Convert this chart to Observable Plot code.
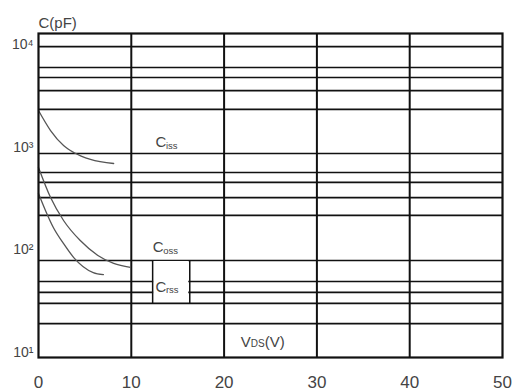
<!DOCTYPE html>
<html><head><meta charset="utf-8">
<script src="https://cdn.jsdelivr.net/npm/d3@7"></script>
<script src="https://cdn.jsdelivr.net/npm/@observablehq/plot@0.6"></script>
<style>body{margin:0;background:#fff;font-family:"Liberation Sans",Arial,sans-serif;}</style>
</head><body><div id="chart"></div>
<script>
// axis ticks
const xTicks = [0, 10, 20, 30, 40, 50];
const yTicks = [10, 100, 1000, 10000];
const yTickText = ["10\u00B9", "10\u00B2", "10\u00B3", "10\u2074"];
// grid lines
const gridY = [9550, 5970, 4770, 3560, 2330, 867, 566, 453, 323, 216, 78.7, 49.1, 38.4, 30.0, 19.1];
const gridX = [10, 20, 30, 40];
// curves: VDS (V) -> C (pF)
const cissV = [0, 1.3, 2.7, 3.8, 5.6, 8.1];
const cissC = [2275, 1452, 1037, 887, 758, 693];
const cossV = [0, 1.3, 2.7, 4.5, 6.4, 8.1, 9.9];
const cossC = [634, 323, 193, 123, 88, 73.6, 67.3];
const crssV = [0, 0.75, 1.6, 2.7, 3.8, 5.9, 7.0];
const crssC = [354, 242, 165, 115, 84, 60, 57.4];
// labels
const labelMain = ["C", "C", "C"];
const labelSub = ["iss", "oss", "rss"];
const labelX = [12.6, 12.3, 12.6];
const labelY = [1110, 105, 43];
// Crss label box
const boxX = [12.3, 16.3];
const boxY = [30.0, 78.7];
// axis title positions
const vdsX = 21.8, vdsY = 12.5;

const series = (v, c) => v.map((d, i) => ({v: d, c: c[i]}));
const labels = labelMain.map((m, i) => ({m, s: labelSub[i], x: labelX[i], y: labelY[i]}));
const textColor = "#444";

const chart = Plot.plot({
  width: 514,
  height: 392,
  marginTop: 33,
  marginBottom: 35,
  marginLeft: 38,
  marginRight: 12,
  style: {fontFamily: "'Liberation Sans', Arial, sans-serif", background: "#fff"},
  x: {domain: [0, 50]},
  y: {type: "log", domain: [8.93, 12794]},
  marks: [
    Plot.ruleY(gridY, {stroke: "#111", strokeWidth: 1.7}),
    Plot.ruleX(gridX, {stroke: "#111", strokeWidth: 2}),
    Plot.rect([{x1: boxX[0], x2: boxX[1], y1: boxY[0], y2: boxY[1]}], {x1: "x1", x2: "x2", y1: "y1", y2: "y2", fill: "white", inset: 1}),
    Plot.ruleX(boxX, {y1: boxY[0], y2: boxY[1], stroke: "#111", strokeWidth: 1.5}),
    Plot.line(series(cissV, cissC), {x: "v", y: "c", curve: "monotone-x", stroke: "#555", strokeWidth: 1.3}),
    Plot.line(series(cossV, cossC), {x: "v", y: "c", curve: "monotone-x", stroke: "#555", strokeWidth: 1.3}),
    Plot.line(series(crssV, crssC), {x: "v", y: "c", curve: "monotone-x", stroke: "#555", strokeWidth: 1.3}),
    Plot.frame({stroke: "#111", strokeWidth: 2.2}),
    Plot.axisX({ticks: xTicks, tickSize: 0, tickPadding: 18, fontSize: 17, fill: textColor, label: null}),
    Plot.axisY({ticks: yTicks, tickSize: 0, tickPadding: 5, fontSize: 14, fill: textColor, label: null,
      tickFormat: d => yTickText[yTicks.indexOf(d)]}),
    Plot.text(labels, {x: "x", y: "y", text: "m", textAnchor: "start", fontSize: 15, fill: textColor}),
    Plot.text(labels, {x: "x", y: "y", text: "s", textAnchor: "start", fontSize: 9.5, dx: 10.5, dy: 3, fill: textColor}),
    Plot.text(["V"], {x: vdsX, y: vdsY, textAnchor: "start", fontSize: 15, fill: textColor}),
    Plot.text(["DS"], {x: vdsX, y: vdsY, textAnchor: "start", fontSize: 10, dx: 10, dy: 1, fill: textColor}),
    Plot.text(["(V)"], {x: vdsX, y: vdsY, textAnchor: "start", fontSize: 15, dx: 24, fill: textColor}),
    Plot.text(["C(pF)"], {frameAnchor: "top-left", dy: -16, textAnchor: "start", fontSize: 15, fill: textColor})
  ]
});
document.getElementById("chart").append(chart);
</script>
</body></html>
